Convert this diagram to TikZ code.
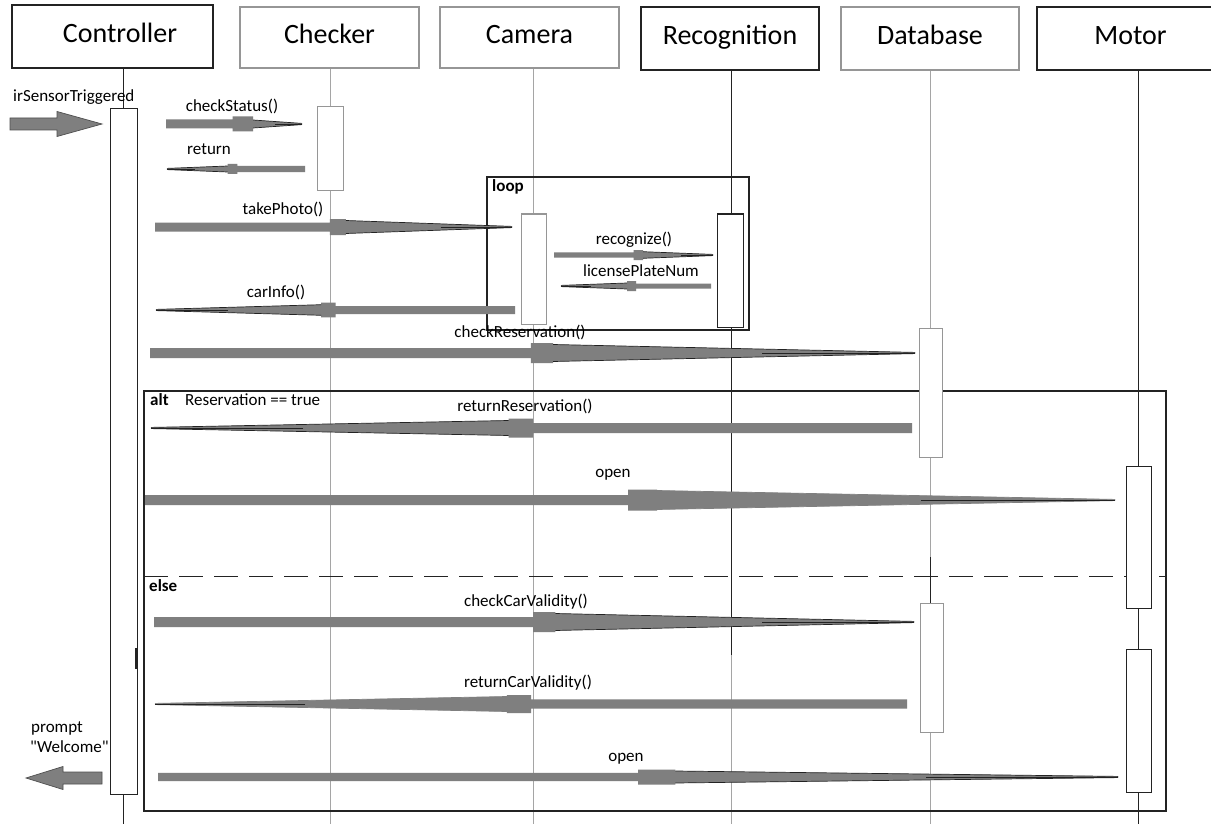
\documentclass[tikz,border=0pt]{standalone}
\usepackage{fontspec}
\setmainfont{Carlito}
\usetikzlibrary{calc}
\definecolor{arrowgray}{RGB}{127,127,127}
\definecolor{lifegray}{RGB}{165,165,165}
\definecolor{boxgray}{RGB}{150,150,150}
\definecolor{ink}{RGB}{35,35,35}
\newcommand\taper[8]{%
  \fill[msgfill] ($(#1)+(0,#3)$) -- ($(#1)!#4!(#2)+(0,#3)$) -- ($(#1)!#4!(#2)+(0,#6)$)
    -- ($(#1)!#5!(#2)+(0,#6)$) -- ($(#1)!#5!(#2)+(0,#7)$) -- ($(#2)+(0,0.6)$)
    -- ($(#2)+(0,-0.6)$) -- ($(#1)!#5!(#2)+(0,-#7)$) -- ($(#1)!#5!(#2)+(0,-#6)$)
    -- ($(#1)!#4!(#2)+(0,-#6)$) -- ($(#1)!#4!(#2)+(0,-#3)$) -- ($(#1)+(0,-#3)$) -- cycle;
  \draw[draw=#8, line width=0.7pt] ($(#1)!#5!(#2)+(0,#7)$) -- ($(#2)+(0,0.6)$);
  \draw[draw=#8, line width=0.7pt] ($(#1)!#5!(#2)+(0,-#7)$) -- ($(#2)+(0,-0.6)$);
  \draw[msgtail] ($(#1)!0.8!(#2)$) -- (#2);
}
\begin{document}
\begin{tikzpicture}[x=1pt,y=-1pt,
  hdr/.style={rectangle, line width=1.1pt, fill=white, font=\fontsize{28}{34}\selectfont,
    text height=20pt, text depth=7pt, inner sep=0pt},
  hdrblack/.style={hdr, draw=ink},
  hdrgray/.style={hdr, draw=boxgray},
  hdrtext/.style={font=\fontsize{28}{34}\selectfont, text height=20pt, text depth=7pt, inner sep=0pt},
  lifeblack/.style={draw=ink, line width=1pt},
  lifegrayst/.style={draw=lifegray, line width=1pt},
  actblack/.style={draw=ink, fill=white, line width=1pt},
  actgray/.style={draw=boxgray, fill=white, line width=1pt},
  frame/.style={draw=ink, line width=1.1pt},
  msgfill/.style={fill=arrowgray},
  msgtail/.style={draw=ink, line width=0.8pt},
  lbl/.style={font=\fontsize{17}{20}\selectfont, inner sep=0pt, text height=12pt, text depth=3.5pt},
  blbl/.style={lbl, font=\fontsize{17}{20}\selectfont\bfseries},
  bigarrow/.style={fill=arrowgray, draw=ink!80, line width=0.7pt, line join=miter}
]
\clip (0,0) rectangle (1211,824);
\fill[white] (0,0) rectangle (1211,824);

% lifelines
\coordinate (l1t) at (123,68);  \coordinate (l1b) at (123,824);
\coordinate (l2t) at (330,68);  \coordinate (l2b) at (330,824);
\coordinate (l3t) at (533,68);  \coordinate (l3b) at (533,824);
\coordinate (l4t) at (731,70);  \coordinate (l4m) at (731,655); \coordinate (l4b) at (731,824);
\coordinate (l5t) at (930,70);  \coordinate (l5b) at (930,824);
\coordinate (l5d1) at (930,557); \coordinate (l5d2) at (930,603);
\coordinate (l6t) at (1138,70); \coordinate (l6b) at (1138,824);
\draw[lifeblack] (l1t) -- (l1b);
\draw[lifegrayst] (l2t) -- (l2b);
\draw[lifegrayst] (l3t) -- (l3b);
\draw[lifeblack] (l4t) -- (l4m);
\draw[lifegrayst] (l4m) -- (l4b);
\draw[lifegrayst] (l5t) -- (l5b);
\draw[lifeblack] (l5d1) -- (l5d2);
\draw[lifeblack] (l6t) -- (l6b);

% headers
\node[hdrblack, minimum width=201, minimum height=63] (ctrl) at (112.5,36.5) {};
\node[hdrtext] (ctrltxt) at (120,36.5) {Controller};
\node[hdrgray, minimum width=179, minimum height=61] (chk) at (329.5,37.5) {Checker};
\node[hdrgray, minimum width=179, minimum height=61] (cam) at (529.5,37.5) {Camera};
\node[hdrblack, minimum width=178, minimum height=63] (rec) at (730,38.5) {Recognition};
\node[hdrgray, minimum width=178, minimum height=63] (db) at (930,38.5) {Database};
\node[hdrblack, minimum width=187, minimum height=63] (mot) at (1130.5,38.5) {Motor};

% frames
\node[frame, minimum width=262, minimum height=153, inner sep=0pt] (loopf) at (618,253.5) {};
\node[blbl, anchor=west] (looplbl) at (492,187) {loop};
\node[frame, minimum width=1022, minimum height=420, inner sep=0pt] (altf) at (655,601) {};
\node[blbl, anchor=west] (altlbl) at (150,401.5) {alt};
\node[lbl, anchor=west] (altcond) at (185,401.5) {Reservation == true};
\coordinate (dl) at (144,576); \coordinate (dr) at (1166,576);
\draw[draw=ink, line width=1pt, dash pattern=on 24pt off 11pt] (dl) -- (dr);
\node[blbl, anchor=west] (elselbl) at (149,587) {else};

% activations
\node[actblack, minimum width=26.5, minimum height=685, inner sep=0pt] (a1) at (123.75,451.5) {};
\node[actgray, minimum width=26, minimum height=84, inner sep=0pt] (a2) at (330,149) {};
\node[actgray, minimum width=25, minimum height=110, inner sep=0pt] (a3) at (533.5,269) {};
\node[actblack, minimum width=26, minimum height=113, inner sep=0pt] (a4) at (730,270.5) {};
\node[actgray, minimum width=23, minimum height=129, inner sep=0pt] (a5) at (930.5,392.5) {};
\node[actblack, minimum width=25, minimum height=142, inner sep=0pt] (a6) at (1138.5,537) {};
\node[actgray, minimum width=23, minimum height=129, inner sep=0pt] (a7) at (931.5,667.5) {};
\node[actblack, minimum width=25, minimum height=143, inner sep=0pt] (a8) at (1138.5,720.5) {};
\coordinate (mk1) at (136,648); \coordinate (mk2) at (136,669);
\draw[draw=ink, line width=2pt] (mk1) -- (mk2);

% big arrows
\coordinate (irtip) at (102,124);
\draw[bigarrow] (irtip) -- ++(-45,-12.5) -- ++(0,6.5) -- ++(-47,0) -- ++(0,12) -- ++(47,0) -- ++(0,6.5) -- cycle;
\node[lbl, anchor=west] (irlbl) at (13,97) {irSensorTriggered};
\coordinate (prtip) at (26,778);
\draw[bigarrow] (prtip) -- ++(37,-11.5) -- ++(0,5.5) -- ++(39,0) -- ++(0,12) -- ++(-39,0) -- ++(0,5.5) -- cycle;
\node[lbl, anchor=west] (prlbl1) at (31,728) {prompt};
\node[lbl, anchor=west] (prlbl2) at (30,748) {\textquotedbl Welcome\textquotedbl};

% messages
\coordinate (m1a) at (166,124); \coordinate (m1b) at (302,124);
\taper{m1a}{m1b}{4.5}{0.49}{0.64}{7.5}{4}{ink}
\node[lbl] (m1l) at (232,107) {checkStatus()};

\coordinate (m2a) at (305,169); \coordinate (m2b) at (167,169);
\taper{m2a}{m2b}{3.2}{0.49}{0.56}{5}{3}{ink}
\node[lbl] (m2l) at (209,150) {return};

\coordinate (m3a) at (155,227); \coordinate (m3b) at (512,227);
\taper{m3a}{m3b}{4.5}{0.49}{0.535}{8}{6.5}{ink}
\node[lbl] (m3l) at (283,210) {takePhoto()};

\coordinate (m4a) at (554,255); \coordinate (m4b) at (713,255);
\taper{m4a}{m4b}{2.7}{0.5}{0.56}{5}{3.3}{ink}
\node[lbl] (m4l) at (634,240) {recognize()};

\coordinate (m5a) at (711,286); \coordinate (m5b) at (561,286);
\taper{m5a}{m5b}{2.5}{0.5}{0.56}{5}{3}{ink}
\node[lbl] (m5l) at (641,272) {licensePlateNum};

\coordinate (m6a) at (515,310); \coordinate (m6b) at (156,310);
\taper{m6a}{m6b}{4}{0.5}{0.54}{7.3}{5.3}{ink}
\node[lbl] (m6l) at (276,293) {carInfo()};

\coordinate (m7a) at (150,353); \coordinate (m7b) at (915,353);
\taper{m7a}{m7b}{5}{0.498}{0.527}{10}{8.5}{ink}
\node[lbl] (m7l) at (520,333) {checkReservation()};

\coordinate (m8a) at (912,428); \coordinate (m8b) at (151,428);
\taper{m8a}{m8b}{5}{0.498}{0.53}{9.5}{7.5}{ink}
\node[lbl] (m8l) at (525,407) {returnReservation()};

\coordinate (m9a) at (145,500); \coordinate (m9b) at (1115,500);
\taper{m9a}{m9b}{5}{0.498}{0.528}{10.5}{9.5}{arrowgray}
\node[lbl] (m9l) at (613,473) {open};

\coordinate (m10a) at (154,622); \coordinate (m10b) at (914,622);
\taper{m10a}{m10b}{5}{0.499}{0.528}{10}{8.5}{ink}
\node[lbl] (m10l) at (526,602) {checkCarValidity()};

\coordinate (m11a) at (907,704); \coordinate (m11b) at (155,704);
\taper{m11a}{m11b}{4.7}{0.5}{0.532}{9}{7.5}{arrowgray}
\node[lbl] (m11l) at (528,683) {returnCarValidity()};

\coordinate (m12a) at (158,777); \coordinate (m12b) at (1118,777);
\taper{m12a}{m12b}{4.2}{0.5}{0.539}{7.5}{6}{ink}
\node[lbl] (m12l) at (626,757) {open};
\end{tikzpicture}
\end{document}
